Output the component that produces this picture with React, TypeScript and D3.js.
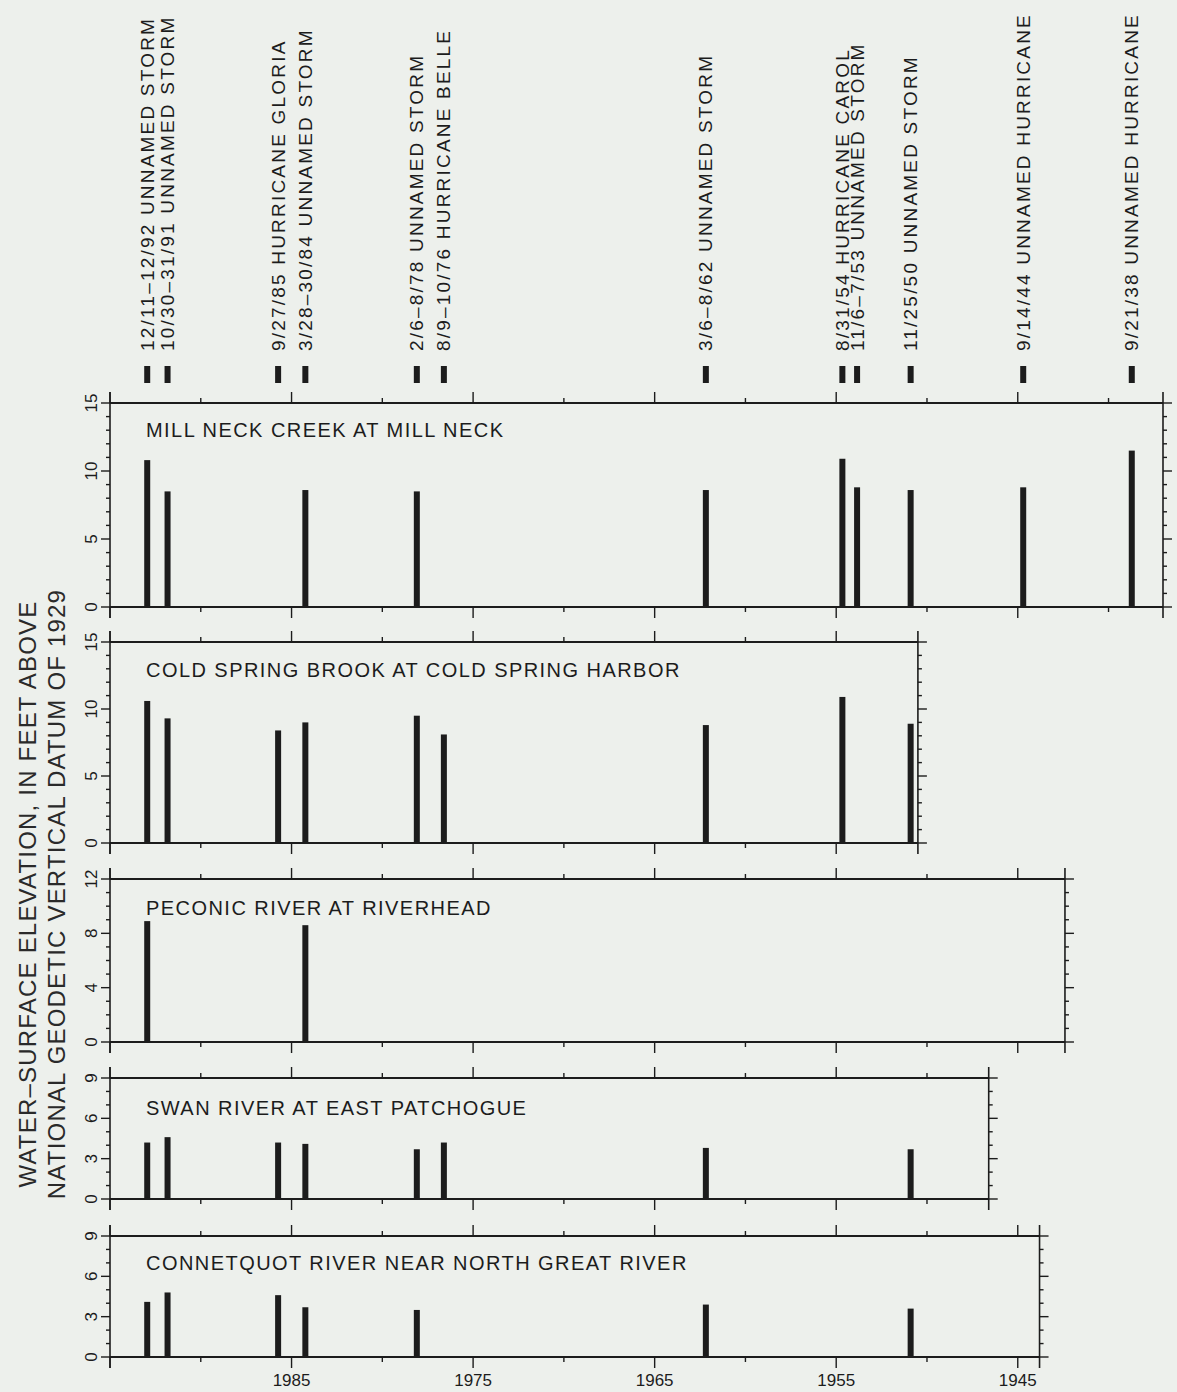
import React from "react";
import * as d3 from "d3";

// ---- data ----
const eventYears = [1992.95, 1991.83, 1985.74, 1984.24, 1978.1, 1976.61, 1962.18, 1954.66, 1953.85, 1950.9, 1944.7, 1938.72];
const eventLabels = [
  "12/11–12/92 UNNAMED STORM",
  "10/30–31/91 UNNAMED STORM",
  "9/27/85 HURRICANE GLORIA",
  "3/28–30/84 UNNAMED STORM",
  "2/6–8/78 UNNAMED STORM",
  "8/9–10/76 HURRICANE BELLE",
  "3/6–8/62 UNNAMED STORM",
  "8/31/54 HURRICANE CAROL",
  "11/6–7/53 UNNAMED STORM",
  "11/25/50 UNNAMED STORM",
  "9/14/44 UNNAMED HURRICANE",
  "9/21/38 UNNAMED HURRICANE",
];

const stationNames = [
  "MILL NECK CREEK AT MILL NECK",
  "COLD SPRING BROOK AT COLD SPRING HARBOR",
  "PECONIC RIVER AT RIVERHEAD",
  "SWAN RIVER AT EAST PATCHOGUE",
  "CONNETQUOT RIVER NEAR NORTH GREAT RIVER",
];
const stationYMax = [15, 15, 12, 9, 9];
const stationYStep = [5, 5, 4, 3, 3];
const stationStartYear = [1995, 1995, 1995, 1995, 1995];
const stationEndYear = [1937, 1950.5, 1942.4, 1946.6, 1943.8];

const millNeck = [10.8, 8.5, null, 8.6, 8.5, null, 8.6, 10.9, 8.8, 8.6, 8.8, 11.5];
const coldSpring = [10.6, 9.3, 8.4, 9.0, 9.5, 8.1, 8.8, 10.9, null, 8.9, null, null];
const peconic = [8.9, null, null, 8.6, null, null, null, null, null, null, null, null];
const swan = [4.2, 4.6, 4.2, 4.1, 3.7, 4.2, 3.8, null, null, 3.7, null, null];
const connetquot = [4.1, 4.8, 4.6, 3.7, 3.5, null, 3.9, null, null, 3.6, null, null];
const stationValues = [millNeck, coldSpring, peconic, swan, connetquot];

const bottomTickYears = [1985, 1975, 1965, 1955, 1945];
const yTitleLines = ["WATER–SURFACE ELEVATION, IN FEET ABOVE", "NATIONAL GEODETIC VERTICAL DATUM OF 1929"];

// ---- layout ----
const W = 1177;
const H = 1392;
const BG = "#edf0ec";
const INK = "#1c1c1c";
const FONT = "'Liberation Sans', Arial, sans-serif";
const panelTops = [403, 642, 879, 1078, 1236];
const panelBottoms = [607, 843, 1042, 1199, 1357];
const nameOffsets = [34, 35, 36, 37, 34];

const x = d3.scaleLinear().domain([1995, 1937]).range([110, 1163]);

function Panel({ i }: { i: number }) {
  const top = panelTops[i];
  const bottom = panelBottoms[i];
  const y = d3.scaleLinear().domain([0, stationYMax[i]]).range([bottom, top]);
  const x0 = x(stationStartYear[i]);
  const x1 = x(stationEndYear[i]);
  const yearTicks: number[] = [];
  for (let yr = 1995; yr >= stationEndYear[i] - 0.01; yr -= 5) yearTicks.push(yr);
  const valTicks = d3.range(0, stationYMax[i] + 0.01, 1);
  const vals = stationValues[i];
  return (
    <g>
      {/* frame */}
      <line x1={x0} x2={x1} y1={top} y2={top} stroke={INK} strokeWidth={2} />
      <line x1={x0} x2={x1} y1={bottom} y2={bottom} stroke={INK} strokeWidth={2} />
      <line x1={x0} x2={x0} y1={top - 11} y2={bottom + 11} stroke={INK} strokeWidth={1.6} />
      <line x1={x1} x2={x1} y1={top - 11} y2={bottom + 11} stroke={INK} strokeWidth={1.6} />
      {/* x ticks */}
      {yearTicks.map((yr) => {
        const major = yr % 10 === 5;
        const len = major ? 11 : 5;
        const xx = x(yr);
        return (
          <g key={yr}>
            <line x1={xx} x2={xx} y1={top} y2={top - len} stroke={INK} strokeWidth={1.4} />
            <line x1={xx} x2={xx} y1={bottom} y2={bottom + len} stroke={INK} strokeWidth={1.4} />
          </g>
        );
      })}
      {/* y ticks */}
      {valTicks.map((v) => {
        const major = v % stationYStep[i] === 0;
        const len = major ? 9 : 4;
        const yy = y(v);
        return (
          <g key={v}>
            <line x1={x0} x2={x0 - len} y1={yy} y2={yy} stroke={INK} strokeWidth={1.4} />
            <line x1={x1} x2={x1 + len} y1={yy} y2={yy} stroke={INK} strokeWidth={1.4} />
            {major && (
              <text
                transform={`translate(${x0 - 13},${yy}) rotate(-90)`}
                textAnchor="middle"
                fontSize={17}
                fontFamily={FONT}
                fill={INK}
              >
                {v}
              </text>
            )}
          </g>
        );
      })}
      {/* station name */}
      <text x={146} y={top + nameOffsets[i]} fontSize={20} fontFamily={FONT} fill={INK} letterSpacing={1.45}>
        {stationNames[i]}
      </text>
      {/* bars */}
      {vals.map((v, k) =>
        v == null ? null : (
          <rect
            key={k}
            x={x(eventYears[k]) - 3}
            y={y(v)}
            width={6}
            height={y(0) - y(v)}
            fill={INK}
          />
        )
      )}
      {/* bottom tick labels */}
      {i === stationNames.length - 1 &&
        bottomTickYears.map((yr) => (
          <text key={yr} x={x(yr)} y={H - 6} textAnchor="middle" fontSize={17} fontFamily={FONT} fill={INK}>
            {yr}
          </text>
        ))}
    </g>
  );
}

export default function App() {
  return (
    <div style={{ position: "absolute", left: 0, top: 0, width: W, height: H, background: BG }}>
      <svg width={W} height={H} style={{ display: "block" }}>
        <rect x={0} y={0} width={W} height={H} fill={BG} />
        {/* event markers and labels */}
        {eventYears.map((yr, k) => (
          <g key={k}>
            <rect x={x(yr) - 3} y={366} width={6} height={17} fill={INK} />
            <text
              transform={`translate(${x(yr) + 6.5},351) rotate(-90)`}
              fontSize={19}
              fontFamily={FONT}
              fill={INK}
              letterSpacing={2.2}
            >
              {eventLabels[k]}
            </text>
          </g>
        ))}
        {/* y title */}
        {yTitleLines.map((t, k) => (
          <text
            key={k}
            transform={`translate(${36 + k * 29},894) rotate(-90)`}
            textAnchor="middle"
            fontSize={24}
            fontFamily={FONT}
            fill="#2a2a2a"
            letterSpacing={1.2}
          >
            {t}
          </text>
        ))}
        {stationNames.map((_, i) => (
          <Panel key={i} i={i} />
        ))}
      </svg>
    </div>
  );
}
